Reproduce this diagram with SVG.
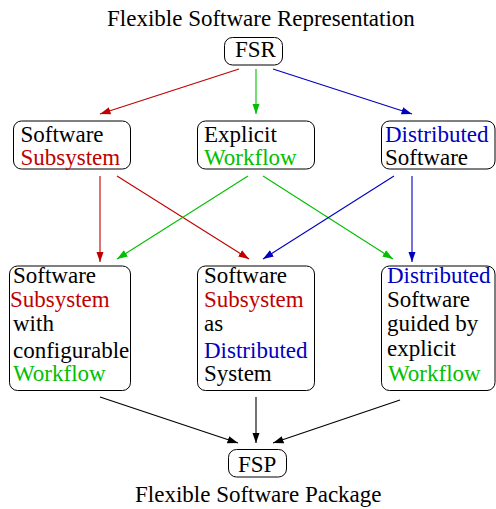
<svg xmlns="http://www.w3.org/2000/svg" width="496" height="509" viewBox="0 0 496 509">
<defs>
<style>
text{font-family:"Liberation Serif","Times New Roman",serif;font-size:23px;fill:#000}
.r{fill:#c00000}.g{fill:#00c000}.b{fill:#0000c0}
rect{fill:#fff;stroke:#000;stroke-width:1}
line{stroke-width:1.1;fill:none}
.lr{stroke:#c00000}.lg{stroke:#00c000}.lb{stroke:#0000c0}.lk{stroke:#000}
</style>
<marker id="ar" markerUnits="userSpaceOnUse" markerWidth="11" markerHeight="8" refX="10.5" refY="4" orient="auto"><path d="M0,0.3 L10.5,4 L0,7.7z" fill="#c00000"/></marker>
<marker id="ag" markerUnits="userSpaceOnUse" markerWidth="11" markerHeight="8" refX="10.5" refY="4" orient="auto"><path d="M0,0.3 L10.5,4 L0,7.7z" fill="#00c000"/></marker>
<marker id="ab" markerUnits="userSpaceOnUse" markerWidth="11" markerHeight="8" refX="10.5" refY="4" orient="auto"><path d="M0,0.3 L10.5,4 L0,7.7z" fill="#0000c0"/></marker>
<marker id="ak" markerUnits="userSpaceOnUse" markerWidth="11" markerHeight="8" refX="10.5" refY="4" orient="auto"><path d="M0,0.3 L10.5,4 L0,7.7z" fill="#000"/></marker>
</defs>
<rect x="0" y="0" width="496" height="509" style="fill:#fff;stroke:none"/>
<text x="107" y="26">Flexible Software Representation</text>
<text x="135" y="502">Flexible Software Package</text>

<g id="connectors">
<line class="lr" x1="239" y1="69" x2="100" y2="114" marker-end="url(#ar)"/>
<line class="lg" x1="256" y1="69" x2="256" y2="114" marker-end="url(#ag)"/>
<line class="lb" x1="273" y1="69" x2="412" y2="114" marker-end="url(#ab)"/>
<line class="lr" x1="100" y1="176" x2="100" y2="262" marker-end="url(#ar)"/>
<line class="lr" x1="117" y1="176" x2="249" y2="259" marker-end="url(#ar)"/>
<line class="lg" x1="248" y1="176" x2="117" y2="259" marker-end="url(#ag)"/>
<line class="lg" x1="263" y1="176" x2="393" y2="259" marker-end="url(#ag)"/>
<line class="lb" x1="394" y1="176" x2="263" y2="259" marker-end="url(#ab)"/>
<line class="lb" x1="412" y1="176" x2="412" y2="262" marker-end="url(#ab)"/>
<line class="lk" x1="100" y1="397" x2="238" y2="443" marker-end="url(#ak)"/>
<line class="lk" x1="256" y1="397" x2="256" y2="443" marker-end="url(#ak)"/>
<line class="lk" x1="400" y1="400" x2="273" y2="443" marker-end="url(#ak)"/>
</g>

<g id="fsr">
<rect x="224.5" y="37.5" width="58" height="27.5" rx="8"/>
<text x="235" y="57">FSR</text>
</g>

<g id="subsystem">
<rect x="13.5" y="121" width="117" height="48" rx="8"/>
<text x="20.5" y="142">Software</text>
<text x="20.5" y="165" class="r">Subsystem</text>
</g>

<g id="workflow">
<rect x="197.5" y="121" width="117" height="48" rx="8"/>
<text x="204" y="142">Explicit</text>
<text x="204" y="165" class="g">Workflow</text>
</g>

<g id="distributed">
<rect x="381.5" y="121" width="113.5" height="48" rx="8"/>
<text x="385" y="142" class="b">Distributed</text>
<text x="385" y="165">Software</text>
</g>

<g id="sub-workflow">
<rect x="9.5" y="266" width="121" height="124.5" rx="8"/>
<text x="13" y="283">Software</text>
<text x="10" y="307" class="r">Subsystem</text>
<text x="13" y="331">with</text>
<text x="13" y="358">configurable</text>
<text x="13" y="381" class="g">Workflow</text>
</g>

<g id="sub-distributed">
<rect x="197.5" y="266" width="117" height="124.5" rx="8"/>
<text x="204" y="283">Software</text>
<text x="204" y="307" class="r">Subsystem</text>
<text x="204" y="331">as</text>
<text x="204" y="358" class="b">Distributed</text>
<text x="204" y="381">System</text>
</g>

<g id="dist-workflow">
<rect x="381.5" y="266" width="113.5" height="124.5" rx="8"/>
<text x="387" y="283" class="b">Distributed</text>
<text x="387" y="307">Software</text>
<text x="387" y="331">guided by</text>
<text x="387" y="356">explicit</text>
<text x="388" y="381" class="g">Workflow</text>
</g>

<g id="fsp">
<rect x="228.5" y="449.5" width="58" height="27.5" rx="8"/>
<text x="238" y="472">FSP</text>
</g>
</svg>
